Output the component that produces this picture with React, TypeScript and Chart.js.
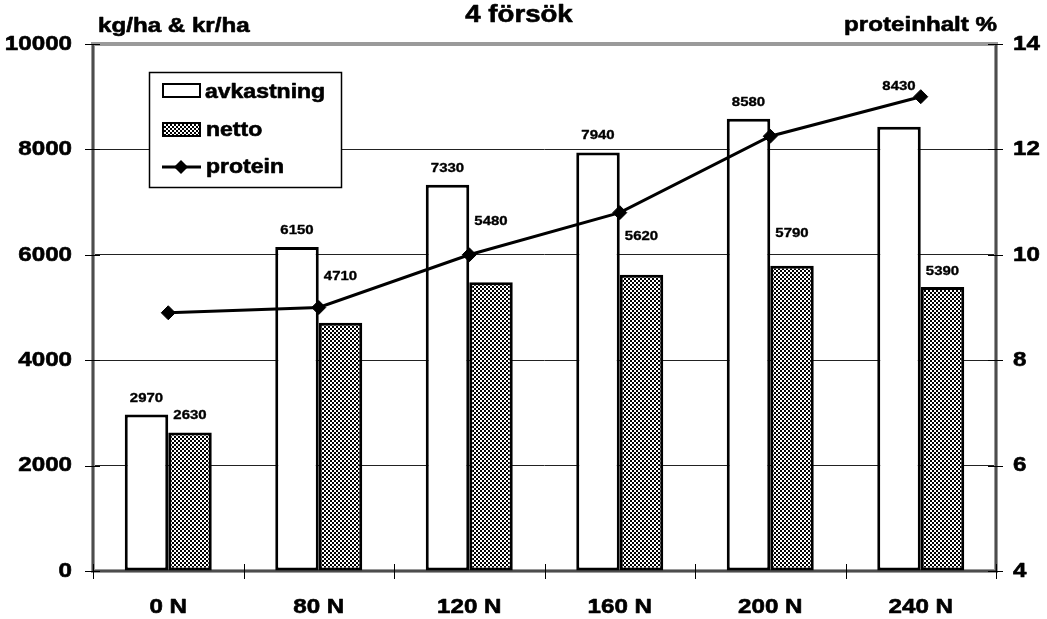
import React, { useEffect, useRef } from 'react';
import { Chart, registerables } from 'chart.js';

Chart.register(...registerables);

// ---- data ----
const categories = ['0 N', '80 N', '120 N', '160 N', '200 N', '240 N'];
const avkastning = [2970, 6150, 7330, 7940, 8580, 8430];
const netto = [2630, 4710, 5480, 5620, 5790, 5390];
const protein = [8.9, 9.0, 10.0, 10.8, 12.25, 13.0];
const leftTicks = [0, 2000, 4000, 6000, 8000, 10000];
const rightTicks = [4, 6, 8, 10, 12, 14];

const chartTitle = '4 försök';
const leftAxisTitle = 'kg/ha & kr/ha';
const rightAxisTitle = 'proteinhalt %';
const seriesNames = ['avkastning', 'netto', 'protein'];

// how far (px) each value label sits above its bar top
const avkLabelLift = [16, 16, 16, 17, 16, 40];
const nettoLabelLift = [17, 46, 61, 38, 32, 16];

const FONT = '"Liberation Sans", Arial, sans-serif';
const STRETCH = 1.15;

function drawText(
  ctx: CanvasRenderingContext2D,
  text: string,
  x: number,
  y: number,
  size: number,
  align: 'left' | 'center' | 'right' = 'left',
  baseline: CanvasTextBaseline = 'middle'
) {
  ctx.save();
  ctx.font = `bold ${size}px ${FONT}`;
  ctx.textBaseline = baseline;
  ctx.textAlign = 'left';
  const w = ctx.measureText(text).width * STRETCH;
  const left = align === 'left' ? x : align === 'center' ? x - w / 2 : x - w;
  ctx.translate(left, y);
  ctx.scale(STRETCH, 1);
  ctx.fillStyle = '#000';
  ctx.strokeStyle = '#000';
  ctx.lineWidth = size > 16 ? 0.6 : 0.35;
  ctx.lineJoin = 'round';
  ctx.fillText(text, 0, 0);
  ctx.strokeText(text, 0, 0);
  ctx.restore();
}

function line(ctx: CanvasRenderingContext2D, x1: number, y1: number, x2: number, y2: number) {
  ctx.beginPath();
  ctx.moveTo(x1, y1);
  ctx.lineTo(x2, y2);
  ctx.stroke();
}

function makeChecker(): CanvasPattern | string {
  const c = document.createElement('canvas');
  c.width = 4;
  c.height = 4;
  const g = c.getContext('2d');
  if (!g) return '#888';
  g.fillStyle = '#000';
  g.fillRect(0, 0, 4, 4);
  g.fillStyle = '#fff';
  g.fillRect(0, 0, 2, 2);
  g.fillRect(2, 2, 2, 2);
  return g.createPattern(c, 'repeat') || '#888';
}

export default function App() {
  const ref = useRef<HTMLCanvasElement | null>(null);

  useEffect(() => {
    const canvas = ref.current;
    if (!canvas) return;
    const checker = makeChecker();

    const decor = {
      id: 'decor',
      beforeDatasetsDraw(chart: any) {
        const { ctx, chartArea: a, scales } = chart;
        ctx.save();
        // plot frame
        ctx.strokeStyle = '#9a9a9a';
        ctx.lineWidth = 4;
        ctx.strokeRect(a.left, a.top, a.right - a.left, a.bottom - a.top);
        ctx.strokeStyle = '#333';
        ctx.lineWidth = 1.5;
        line(ctx, a.left, a.top, a.left, a.bottom);
        line(ctx, a.right, a.top, a.right, a.bottom);
        line(ctx, a.left, a.bottom, a.right, a.bottom);
        // tick marks
        ctx.strokeStyle = '#000';
        ctx.lineWidth = 1;
        leftTicks.forEach((v) => {
          const y = Math.round(scales.y.getPixelForValue(v)) + 0.5;
          line(ctx, a.left - 8, y, a.left + 7, y);
        });
        rightTicks.forEach((v) => {
          const y = Math.round(scales.y2.getPixelForValue(v)) + 0.5;
          line(ctx, a.right - 8, y, a.right + 7, y);
        });
        const xs = scales.x;
        const bounds: number[] = [a.left];
        for (let i = 0; i < categories.length - 1; i++) {
          bounds.push((xs.getPixelForTick(i) + xs.getPixelForTick(i + 1)) / 2);
        }
        bounds.push(a.right);
        bounds.forEach((bx) => {
          const x = Math.round(bx) + 0.5;
          line(ctx, x, a.bottom - 7, x, a.bottom + 8);
        });
        ctx.restore();
      },
      afterDatasetsDraw(chart: any) {
        const { ctx, chartArea: a, scales } = chart;
        // value labels
        const m0 = chart.getDatasetMeta(0).data;
        const m1 = chart.getDatasetMeta(1).data;
        avkastning.forEach((v, i) => {
          const el = m0[i];
          drawText(ctx, String(v), el.x, el.y - avkLabelLift[i], 13, 'center');
        });
        netto.forEach((v, i) => {
          const el = m1[i];
          drawText(ctx, String(v), el.x, el.y - nettoLabelLift[i], 13, 'center');
        });

        // axis tick labels
        leftTicks.forEach((v) => {
          drawText(ctx, String(v), a.left - 21, scales.y.getPixelForValue(v), 21, 'right');
        });
        rightTicks.forEach((v) => {
          drawText(ctx, String(v), a.right + 17, scales.y2.getPixelForValue(v), 21, 'left');
        });
        categories.forEach((c, i) => {
          drawText(ctx, c, scales.x.getPixelForTick(i), 607, 21, 'center');
        });

        // titles
        drawText(ctx, chartTitle, 519, 22, 24, 'center', 'alphabetic');
        drawText(ctx, leftAxisTitle, 98, 32, 21, 'left', 'alphabetic');
        drawText(ctx, rightAxisTitle, 997, 31, 21, 'right', 'alphabetic');

        // legend box
        ctx.save();
        ctx.fillStyle = '#fff';
        ctx.fillRect(149, 72, 193, 116);
        ctx.strokeStyle = '#000';
        ctx.lineWidth = 1.5;
        ctx.strokeRect(149.5, 72.5, 192, 115);
        // avkastning swatch
        ctx.lineWidth = 2;
        ctx.fillStyle = '#fff';
        ctx.fillRect(163, 84, 37, 13);
        ctx.strokeRect(163, 84, 37, 13);
        // netto swatch
        ctx.fillStyle = checker as any;
        ctx.fillRect(163, 123, 37, 13);
        ctx.strokeRect(163, 123, 37, 13);
        // protein swatch
        ctx.lineWidth = 3;
        line(ctx, 162, 167, 201, 167);
        ctx.fillStyle = '#000';
        ctx.beginPath();
        ctx.moveTo(181, 160);
        ctx.lineTo(188, 167);
        ctx.lineTo(181, 174);
        ctx.lineTo(174, 167);
        ctx.closePath();
        ctx.fill();
        ctx.restore();
        drawText(ctx, seriesNames[0], 205, 92, 20, 'left');
        drawText(ctx, seriesNames[1], 206, 130, 20, 'left');
        drawText(ctx, seriesNames[2], 206, 167, 20, 'left');
      },
    };

    const chart = new Chart(canvas, {
      type: 'bar',
      data: {
        labels: categories,
        datasets: [
          {
            type: 'bar',
            label: seriesNames[0],
            data: avkastning,
            backgroundColor: '#fff',
            borderColor: '#000',
            borderWidth: 3,
            borderSkipped: false,
            yAxisID: 'y',
            order: 1,
            categoryPercentage: 0.578,
            barPercentage: 1,
          },
          {
            type: 'bar',
            label: seriesNames[1],
            data: netto,
            backgroundColor: checker as any,
            borderColor: '#000',
            borderWidth: 3,
            borderSkipped: false,
            yAxisID: 'y',
            order: 1,
            categoryPercentage: 0.578,
            barPercentage: 1,
          },
          {
            type: 'line',
            label: seriesNames[2],
            data: protein,
            yAxisID: 'y2',
            borderColor: '#000',
            borderWidth: 3,
            tension: 0,
            fill: false,
            pointStyle: 'rectRot',
            pointRadius: 7,
            pointBackgroundColor: '#000',
            pointBorderColor: '#000',
            pointBorderWidth: 1,
            order: 0,
          } as any,
        ],
      },
      options: {
        animation: false,
        responsive: false,
        layout: { padding: { top: 44, left: 0, right: 0, bottom: 0 } },
        plugins: {
          legend: { display: false },
          tooltip: { enabled: false },
          title: { display: false },
        },
        scales: {
          x: {
            type: 'category',
            grid: { display: false },
            border: { display: false },
            ticks: { display: false },
            afterFit: (s: any) => {
              s.height = 48;
            },
          },
          y: {
            position: 'left',
            min: 0,
            max: 10000,
            ticks: { stepSize: 2000, display: false },
            grid: { color: '#222', lineWidth: 1, drawTicks: false },
            border: { display: false },
            afterFit: (s: any) => {
              s.width = 93;
            },
          },
          y2: {
            position: 'right',
            min: 4,
            max: 14,
            ticks: { stepSize: 2, display: false },
            grid: { display: false, drawTicks: false },
            border: { display: false },
            afterFit: (s: any) => {
              s.width = 51;
            },
          },
        },
      },
      plugins: [decor],
    });

    return () => chart.destroy();
  }, []);

  return (
    <canvas
      ref={ref}
      width={1047}
      height={619}
      style={{ position: 'absolute', left: 0, top: 0, display: 'block', background: '#fff' }}
    />
  );
}
